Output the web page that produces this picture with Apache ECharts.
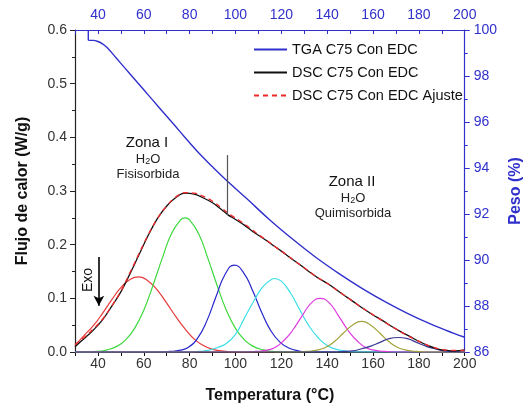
<!DOCTYPE html>
<html>
<head>
<meta charset="utf-8">
<script src="https://cdn.jsdelivr.net/npm/echarts@6/dist/echarts.min.js"></script>
<style>
  html, body { margin: 0; padding: 0; background: #fff; }
  #chart { width: 532px; height: 410px; }
</style>
</head>
<body>
<div id="chart"></div>
<script>
// temperatura (°C) vs peso (%)
const tgaCurve = [[35.8,100],[35.8,99.57],[36.5,99.55],[38,99.55],[40,99.5],[42,99.4],[44,99.24],[48,98.78],[52,98.32],[56,97.86],[60,97.4],[64,96.94],[68,96.48],[72,96.02],[76,95.56],[80,95.1],[84,94.65],[90,94.05],[97,93.38],[105,92.66],[115,91.74],[125,90.9],[135,90.12],[145,89.42],[155,88.78],[165,88.2],[175,87.68],[185,87.22],[195,86.82],[200,86.64]];

// temperatura (°C) vs flujo de calor (W/g)
const dscCurve = [[30,0.010],[34,0.025],[38,0.041],[42,0.060],[46,0.085],[50,0.112],[54,0.146],[58,0.182],[62,0.218],[66,0.249],[70,0.272],[74,0.288],[78,0.296],[82,0.294],[86,0.287],[90,0.278],[94,0.265],[96.6,0.256],[100,0.247],[104,0.236],[108,0.223],[112,0.212],[116,0.200],[120,0.188],[124,0.175],[128,0.163],[132,0.150],[136,0.138],[140,0.128],[144,0.116],[148,0.104],[152,0.092],[156,0.080],[160,0.069],[164,0.059],[168,0.048],[172,0.038],[176,0.029],[180,0.020],[184,0.012],[188,0.006],[192,0.003],[196,0.002],[200,0.004]];
const fitCurve = [[30,0.014],[34,0.027],[38,0.043],[42,0.061],[46,0.086],[50,0.113],[54,0.148],[58,0.184],[62,0.219],[66,0.249],[70,0.272],[74,0.289],[78,0.297],[82,0.296],[86,0.290],[90,0.281],[94,0.268],[98,0.255],[102,0.244],[106,0.232],[110,0.219],[114,0.207],[118,0.194],[122,0.182],[126,0.169],[130,0.157],[134,0.144],[138,0.133],[142,0.122],[146,0.110],[150,0.098],[154,0.086],[158,0.075],[162,0.064],[166,0.053],[170,0.043],[174,0.033],[178,0.024],[182,0.016],[186,0.009],[190,0.005],[194,0.003],[200,0.003]];

// picos de la deconvolución
const peak1 = [[30,0.012],[34,0.031],[38,0.049],[42,0.072],[46,0.097],[50,0.120],[54,0.135],[58,0.140],[62,0.132],[66,0.115],[70,0.091],[74,0.066],[78,0.043],[82,0.024],[86,0.012],[90,0.005],[94,0.002],[100,0],[200,0]];
const peak2 = [[30,0],[40,0.001],[44,0.004],[48,0.010],[52,0.022],[56,0.044],[60,0.078],[64,0.124],[68,0.174],[72,0.220],[76,0.246],[78,0.250],[80,0.246],[84,0.220],[88,0.174],[92,0.124],[96,0.078],[100,0.044],[104,0.022],[108,0.010],[112,0.004],[116,0.001],[120,0],[200,0]];
const peak3 = [[30,0],[67.5,0],[71.5,0.001],[75.5,0.003],[79.5,0.009],[83.5,0.026],[87.5,0.058],[91.5,0.103],[95.5,0.145],[99.5,0.162],[103.5,0.148],[107.5,0.114],[111.5,0.073],[115.5,0.039],[119.5,0.018],[123.5,0.007],[127.5,0.002],[131.5,0],[200,0]];
const peak4 = [[30,0],[80,0],[84,0.001],[88,0.003],[92,0.008],[96,0.016],[100,0.033],[104,0.064],[108,0.095],[112,0.122],[116,0.136],[117,0.137],[120,0.132],[124,0.110],[128,0.079],[132,0.049],[136,0.027],[140,0.012],[144,0.005],[148,0.002],[152,0],[200,0]];
const peak5 = [[30,0],[105,0],[109,0.001],[113,0.003],[117,0.008],[121,0.021],[125,0.041],[129,0.067],[133,0.091],[137,0.100],[141,0.091],[145,0.067],[149,0.041],[153,0.021],[157,0.008],[161,0.003],[165,0.001],[169,0],[200,0]];
const peak6 = [[30,0],[127,0],[131,0.001],[135,0.003],[139,0.008],[143,0.019],[147,0.035],[151,0.050],[155,0.057],[159,0.050],[163,0.035],[167,0.019],[171,0.008],[175,0.003],[179,0.001],[183,0],[200,0]];
const peak7 = [[30,0],[143,0],[147,0.001],[151,0.002],[155,0.006],[159,0.011],[163,0.018],[167,0.025],[171,0.027],[175,0.025],[179,0.018],[183,0.011],[187,0.006],[191,0.002],[195,0.001],[199,0],[200,0]];

const markerLine = [[96.6,0.255],[96.6,0.367]];
const exoArrow = [[40.4,0.177],[40.4,0.086]];

const peakColors = ['#e83a3a','#3fd83f','#2626cc','#3ee0e8','#e03ce0','#a3a33c','#3a3a96'];
const blue = '#3030cc';
const font = 'Liberation Sans, Arial, sans-serif';

const chart = echarts.init(document.getElementById('chart'));

const peakSeries = [peak1, peak2, peak3, peak4, peak5, peak6, peak7].map((d, i) => ({
    name: 'pico' + (i + 1),
    type: 'line',
    data: d,
    smooth: 0.5,
    symbol: 'none',
    lineStyle: { color: peakColors[i], width: 1.2 },
    z: 2
}));

const h2o = {
    sub: { fontSize: 9, fontFamily: font, color: '#222', verticalAlign: 'bottom', padding: [6, 0, 0, 0] },
    n: { fontSize: 13, fontFamily: font, color: '#222' }
};

chart.setOption({
    animation: false,
    backgroundColor: '#fff',
    textStyle: { fontFamily: font },
    grid: { left: 75, right: 64, top: 30, bottom: 58 },
    legend: {
        data: ['TGA C75 Con EDC', 'DSC C75 Con EDC', 'DSC C75 Con EDC Ajuste'],
        orient: 'vertical',
        left: 248,
        top: 37,
        itemWidth: 33,
        itemHeight: 12,
        itemGap: 8,
        itemStyle: { opacity: 0 },
        textStyle: { fontSize: 14.5, color: '#111', fontFamily: font }
    },
    xAxis: [
        {
            type: 'value', position: 'bottom', min: 30, max: 200, interval: 10,
            axisLine: { lineStyle: { color: '#111', width: 1.2 } },
            axisTick: { inside: false, length: 4, lineStyle: { color: '#111' } },
            axisLabel: { fontSize: 14, color: '#333', margin: 5, formatter: v => v % 20 === 0 ? v : '' },
            splitLine: { show: false },
            name: 'Temperatura (°C)', nameLocation: 'middle', nameGap: 36,
            nameTextStyle: { fontSize: 16, fontWeight: 'bold', color: '#111' }
        },
        {
            type: 'value', position: 'top', min: 30, max: 200, interval: 10,
            axisLine: { lineStyle: { color: blue, width: 1.2 } },
            axisTick: { inside: true, length: 4, lineStyle: { color: blue } },
            axisLabel: { fontSize: 14, color: blue, margin: 8, formatter: v => v % 20 === 0 ? v : '' },
            splitLine: { show: false }
        }
    ],
    yAxis: [
        {
            type: 'value', position: 'left', min: 0, max: 0.6, interval: 0.1,
            axisLine: { show: true, lineStyle: { color: '#222', width: 1.2 } },
            axisTick: { show: true, length: 5, lineStyle: { color: '#222' } },
            minorTick: { show: true, splitNumber: 2, length: 3, lineStyle: { color: '#222' } },
            axisLabel: { fontSize: 14, color: '#333', margin: 8, formatter: v => v.toFixed(1) },
            splitLine: { show: false },
            name: 'Flujo de calor (W/g)', nameLocation: 'middle', nameGap: 44,
            nameTextStyle: { fontSize: 16, fontWeight: 'bold', color: '#111' }
        },
        {
            type: 'value', position: 'right', min: 86, max: 100, interval: 2,
            axisLine: { show: true, lineStyle: { color: blue, width: 1.2 } },
            axisTick: { show: true, length: 5, lineStyle: { color: blue } },
            minorTick: { show: true, splitNumber: 2, length: 3, lineStyle: { color: blue } },
            axisLabel: { fontSize: 14, color: blue, margin: 9 },
            splitLine: { show: false },
            name: 'Peso (%)', nameLocation: 'middle', nameGap: 32, nameRotate: 90,
            nameTextStyle: { fontSize: 16, fontWeight: 'bold', color: blue }
        }
    ],
    series: peakSeries.concat([
        {
            name: 'DSC C75 Con EDC', type: 'line', data: dscCurve,
            smooth: 0.4, symbol: 'none',
            lineStyle: { color: '#111', width: 1.3 }, z: 3,
            markLine: {
                silent: true, animation: false,
                label: { show: false },
                data: [
                    [{ coord: markerLine[0], symbol: 'none' }, { coord: markerLine[1], symbol: 'none', lineStyle: { color: '#555', width: 1.2, type: 'solid' } }],
                    [{ coord: exoArrow[0], symbol: 'none' }, { coord: exoArrow[1], symbol: 'arrow', symbolSize: [8, 10], lineStyle: { color: '#000', width: 1.6, type: 'solid' } }]
                ]
            }
        },
        {
            name: 'DSC C75 Con EDC Ajuste', type: 'line', data: fitCurve,
            smooth: 0.4, symbol: 'none',
            lineStyle: { color: '#f02828', width: 1.3, type: [5, 4] }, z: 4
        },
        {
            name: 'TGA C75 Con EDC', type: 'line', data: tgaCurve, yAxisIndex: 1,
            smooth: 0.4, symbol: 'none',
            lineStyle: { color: blue, width: 1.4 }, z: 4
        }
    ]),
    graphic: [
        { type: 'text', x: 147, y: 143, style: { text: 'Zona I', font: '15px ' + font, fill: '#111', align: 'center', verticalAlign: 'middle' } },
        { type: 'text', x: 148, y: 159, style: { text: 'H{sub|2}O', rich: h2o, font: '13px ' + font, fill: '#222', align: 'center', verticalAlign: 'middle' } },
        { type: 'text', x: 148, y: 174, style: { text: 'Fisisorbida', font: '13px ' + font, fill: '#222', align: 'center', verticalAlign: 'middle' } },
        { type: 'text', x: 352, y: 182, style: { text: 'Zona II', font: '15px ' + font, fill: '#111', align: 'center', verticalAlign: 'middle' } },
        { type: 'text', x: 353, y: 198, style: { text: 'H{sub|2}O', rich: h2o, font: '13px ' + font, fill: '#222', align: 'center', verticalAlign: 'middle' } },
        { type: 'text', x: 353, y: 213, style: { text: 'Quimisorbida', font: '13px ' + font, fill: '#222', align: 'center', verticalAlign: 'middle' } },
        { type: 'text', x: 88, y: 280, rotation: Math.PI / 2, style: { text: 'Exo', font: '14px ' + font, fill: '#111', align: 'center', verticalAlign: 'middle' } }
    ]
});
</script>
</body>
</html>
